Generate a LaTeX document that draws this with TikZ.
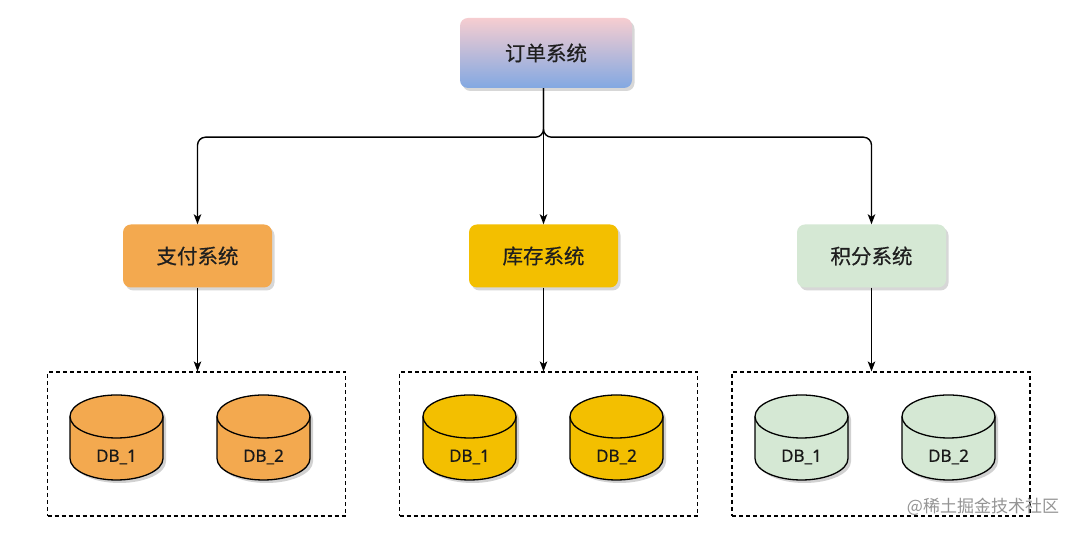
\documentclass[tikz,border=0pt]{standalone}
\usepackage{fontspec}
\setmainfont{Noto Sans}
\newfontfamily\cjk[FakeBold=0.5]{Noto Sans CJK SC}
\newfontfamily\cjkwm{Noto Sans CJK SC}
\newfontfamily\dbfont[FakeBold=0.4]{Noto Sans}
\usetikzlibrary{shadows,arrows.meta}
\definecolor{orangeA}{HTML}{F3A94F}
\definecolor{yellowA}{HTML}{F3BF00}
\definecolor{greenA}{HTML}{D5E8D4}
\definecolor{pinkA}{HTML}{F6CDD0}
\definecolor{blueA}{HTML}{82A8E2}
\tikzset{
  x=1pt, y=1pt,
  sysbox/.style={rounded corners=8pt, minimum width=149pt, minimum height=63pt,
    inner sep=0pt, font=\cjk\fontsize{20.5}{21}\selectfont, text=black!88,
    drop shadow={shadow xshift=2.5pt, shadow yshift=-3pt, opacity=0.22, fill=black!70}},
  conn/.style={line width=1.4pt, draw=black},
  arr/.style={conn, -{Stealth[length=10pt, width=7.5pt, inset=2.5pt]}},
  dbgroup/.style={draw=black, dash pattern=on 4pt off 3pt, line width=1.1pt,
    minimum width=298pt, minimum height=144pt, inner sep=0pt},
  dblabel/.style={font=\dbfont\fontsize{17}{17}\selectfont, text=black!90, inner sep=0pt},
}
\newcommand\cylpath[1]{(#1-46.5,117.5) -- (#1-46.5,75.5) arc[start angle=180,end angle=360,x radius=46.5,y radius=21.5] -- (#1+46.5,117.5) arc[start angle=0,end angle=180,x radius=46.5,y radius=21.5] -- cycle}
\newcommand\dbcyl[4]{%
  \fill[black, opacity=0.18, xshift=3pt, yshift=-3pt] \cylpath{#2};
  \filldraw[fill=#3, draw=black, line width=1.3pt] \cylpath{#2};
  \draw[line width=1.3pt] (#2-46.5,117.5) arc[start angle=180,end angle=360,x radius=46.5,y radius=21.5];
  \node[dblabel] (#1) at (#2,77) {#4};
}
\begin{document}
\begin{tikzpicture}
\useasboundingbox (0,0) rectangle (1080,534);
\fill[white] (0,0) rectangle (1080,534);

% top node
\node[sysbox, minimum width=172pt, minimum height=70pt, top color=pinkA, bottom color=blueA] (order) at (546,481) {订单系统};

% middle nodes
\node[sysbox, fill=orangeA] (pay) at (197.5,278) {支付系统};
\node[sysbox, fill=yellowA] (stock) at (543.5,278) {库存系统};
\node[sysbox, fill=greenA] (points) at (871.5,278) {积分系统};

% dashed groups
\node[dbgroup] (g1) at (196.5,90) {};
\node[dbgroup] (g2) at (548.5,90) {};
\node[dbgroup] (g3) at (881,90) {};

% cylinders
\dbcyl{d11}{116.5}{orangeA}{DB\_1}
\dbcyl{d12}{263.5}{orangeA}{DB\_2}
\dbcyl{d21}{469.5}{yellowA}{DB\_1}
\dbcyl{d22}{616.5}{yellowA}{DB\_2}
\dbcyl{d31}{801.5}{greenA}{DB\_1}
\dbcyl{d32}{948.5}{greenA}{DB\_2}

% connectors
\draw[arr] (order.south -| stock.north) -- (stock.north);
\draw[arr, rounded corners=8pt] (order.south -| stock.north) -- ++(0,-49) -| (pay.north);
\draw[arr, rounded corners=8pt] (order.south -| stock.north) -- ++(0,-49) -| (points.north);

\draw[arr] (pay.south) -- (pay.south |- g1.north);
\draw[arr] (stock.south) -- (stock.south |- g2.north);
\draw[arr] (points.south) -- (points.south |- g3.north);

% watermark
\node[font=\cjkwm\fontsize{17}{17}\selectfont, text=black!42, inner sep=0pt] (wm) at (983,27) {@稀土掘金技术社区};
\end{tikzpicture}
\end{document}
